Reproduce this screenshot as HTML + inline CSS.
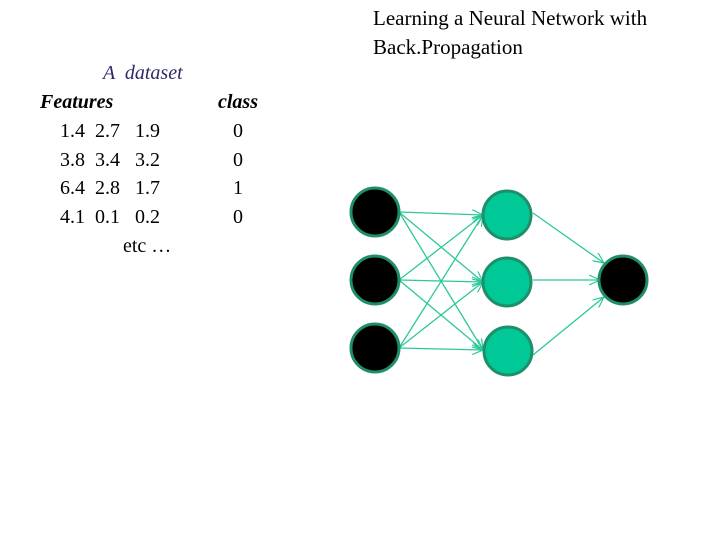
<!DOCTYPE html>
<html><head><style>
body{margin:0;width:720px;height:540px;background:#fff;position:relative;overflow:hidden;font-family:"Liberation Serif",serif;}
.t{position:absolute;font-size:20px;color:#000;white-space:pre;line-height:1;}
</style></head><body>
<div class="t" style="left:373px;top:8px;font-size:21px;">Learning a Neural Network with</div>
<div class="t" style="left:373px;top:37px;font-size:21px;">Back.Propagation</div>
<div class="t" style="left:103px;top:63px;font-style:italic;color:#2b2b6b;">A  dataset</div>
<div class="t" style="left:40px;top:92px;font-style:italic;font-weight:bold;">Features</div>
<div class="t" style="left:218px;top:92px;font-style:italic;font-weight:bold;">class</div>
<div class="t" style="left:60px;top:121px;">1.4  2.7   1.9</div><div class="t" style="left:233px;top:121px;">0</div>
<div class="t" style="left:60px;top:150px;">3.8  3.4   3.2</div><div class="t" style="left:233px;top:150px;">0</div>
<div class="t" style="left:60px;top:178px;">6.4  2.8   1.7</div><div class="t" style="left:233px;top:178px;">1</div>
<div class="t" style="left:60px;top:207px;">4.1  0.1   0.2</div><div class="t" style="left:233px;top:207px;">0</div>
<div class="t" style="left:123px;top:236px;">etc …</div>
<svg width="720" height="540" style="position:absolute;left:0;top:0">
<defs><marker id="a" markerWidth="12" markerHeight="10" refX="11" refY="5" orient="auto" markerUnits="userSpaceOnUse"><path d="M0,0 L11,5 L0,10" fill="none" stroke="#2cc89a" stroke-width="1.2"/></marker></defs>
<g stroke="#2cc89a" stroke-width="1.3" marker-end="url(#a)">
<line x1="399" y1="212" x2="483" y2="215"/><line x1="399" y1="212" x2="483" y2="282"/><line x1="399" y1="212" x2="483" y2="350"/>
<line x1="399" y1="280" x2="483" y2="215"/><line x1="399" y1="280" x2="483" y2="282"/><line x1="399" y1="280" x2="483" y2="350"/>
<line x1="399" y1="348" x2="483" y2="215"/><line x1="399" y1="348" x2="483" y2="282"/><line x1="399" y1="348" x2="483" y2="350"/>
<line x1="533" y1="213" x2="604" y2="263"/><line x1="533" y1="280" x2="600" y2="280"/><line x1="533" y1="355" x2="604" y2="297"/>
</g>
<g stroke="#1f8f6a" stroke-width="3">
<circle cx="375" cy="212" r="24" fill="#000"/><circle cx="375" cy="280" r="24" fill="#000"/><circle cx="375" cy="348" r="24" fill="#000"/>
<circle cx="507" cy="215" r="24" fill="#00c896"/><circle cx="507" cy="282" r="24" fill="#00c896"/><circle cx="508" cy="351" r="24" fill="#00c896"/>
<circle cx="623" cy="280" r="24" fill="#000"/>
</g>
</svg>
</body></html>
